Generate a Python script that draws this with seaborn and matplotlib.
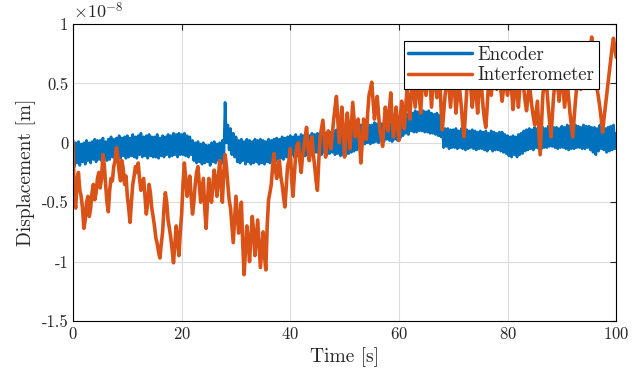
import numpy as np
import pandas as pd
import matplotlib
matplotlib.use("Agg")
import matplotlib.pyplot as plt
import seaborn as sns

# values in units of 1e-8 m, sampled every 0.25 s (one row = 5 s)
time_s = np.arange(0, 100.25, 0.25)

encoder = [
    0.02, -0.2, 0.0, -0.17, 0.01, -0.19, -0.01, -0.16, 0.0, -0.18, 0.02, -0.15, 0.0, -0.17, 0.01, -0.14, 0.03, -0.16, 0.02, -0.14,
    0.02, -0.15, 0.04, -0.13, 0.01, -0.15, 0.03, -0.14, 0.05, -0.12, 0.03, -0.14, 0.04, -0.12, 0.06, -0.13, 0.04, -0.11, 0.05, -0.13,
    0.06, -0.12, 0.04, -0.11, 0.07, -0.12, 0.05, -0.13, 0.06, -0.1, 0.08, -0.12, 0.05, -0.11, 0.06, -0.13, 0.07, -0.11, 0.05, -0.12,
    0.05, -0.12, 0.07, -0.13, 0.04, -0.11, 0.06, -0.12, 0.05, -0.1, 0.07, -0.12, 0.06, -0.11, 0.08, -0.1, 0.07, -0.12, 0.08, -0.1,
    0.07, -0.1, 0.08, -0.11, 0.06, -0.12, 0.05, -0.1, 0.02, -0.15, 0.0, -0.17, 0.01, -0.16, -0.01, -0.18, 0.0, -0.17, -0.02, -0.16,
    -0.02, -0.19, 0.0, -0.16, 0.01, -0.17, -0.01, -0.15, 0.0, -0.18, 0.02, -0.16, 0.34, 0.0, 0.15, -0.06, 0.12, -0.1, 0.08, -0.12,
    0.05, -0.16, 0.02, -0.17, 0.03, -0.15, 0.01, -0.18, 0.03, -0.16, 0.02, -0.18, 0.01, -0.17, 0.03, -0.16, 0.02, -0.18, 0.03, -0.17,
    0.02, -0.18, 0.01, -0.16, 0.03, -0.17, 0.02, -0.15, 0.03, -0.16, 0.04, -0.14, 0.03, -0.13, 0.05, -0.14, 0.04, -0.12, 0.05, -0.13,
    0.06, -0.1, 0.05, -0.12, 0.07, -0.11, 0.05, -0.1, 0.07, -0.09, 0.06, -0.11, 0.07, -0.1, 0.06, -0.09, 0.08, -0.1, 0.07, -0.08,
    0.08, -0.09, 0.07, -0.1, 0.09, -0.08, 0.08, -0.1, 0.1, -0.09, 0.09, -0.08, 0.1, -0.1, 0.11, -0.09, 0.12, -0.11, 0.11, -0.1,
    0.13, -0.1, 0.12, -0.09, 0.14, -0.08, 0.13, -0.07, 0.12, -0.06, 0.14, -0.04, 0.15, -0.02, 0.14, -0.01, 0.16, 0.0, 0.15, -0.01,
    0.15, 0.0, 0.17, 0.01, 0.16, 0.0, 0.17, 0.02, 0.16, 0.01, 0.18, 0.03, 0.17, 0.02, 0.16, 0.01, 0.18, 0.03, 0.17, 0.02,
    0.2, 0.04, 0.21, 0.06, 0.22, 0.08, 0.24, 0.07, 0.26, 0.1, 0.25, 0.09, 0.27, 0.09, 0.26, 0.1, 0.28, 0.1, 0.27, 0.09,
    0.26, 0.09, 0.27, 0.08, 0.25, 0.08, 0.24, 0.07, 0.25, 0.06, 0.23, 0.05, 0.13, -0.04, 0.12, -0.03, 0.12, -0.05, 0.11, -0.04,
    0.11, -0.04, 0.12, -0.05, 0.1, -0.04, 0.12, -0.05, 0.1, -0.06, 0.11, -0.05, 0.1, -0.04, 0.11, -0.05, 0.1, -0.06, 0.09, -0.05,
    0.1, -0.05, 0.09, -0.06, 0.1, -0.07, 0.08, -0.05, 0.1, -0.07, 0.09, -0.06, 0.08, -0.06, 0.09, -0.07, 0.09, -0.08, 0.07, -0.09,
    0.06, -0.11, 0.05, -0.12, 0.06, -0.1, 0.05, -0.12, 0.07, -0.1, 0.08, -0.09, 0.1, -0.07, 0.11, -0.06, 0.12, -0.05, 0.11, -0.06,
    0.13, -0.04, 0.12, -0.05, 0.14, -0.05, 0.13, -0.04, 0.12, -0.04, 0.14, -0.03, 0.14, -0.03, 0.13, -0.04, 0.13, -0.05, 0.12, -0.04,
    0.14, -0.04, 0.13, -0.05, 0.15, -0.06, 0.14, -0.05, 0.13, -0.05, 0.15, -0.04, 0.14, -0.04, 0.13, -0.05, 0.15, -0.05, 0.14, -0.04,
    0.14, -0.06, 0.13, -0.08, 0.13, -0.1, 0.12, -0.07, 0.15, -0.05, 0.14, -0.06, 0.12, -0.08, 0.13, -0.07, 0.14, -0.06, 0.15, -0.05,
    0.08,
]

interferometer = [
    0.0, -0.5, -0.55, -0.3, -0.25, -0.4, -0.45, -0.55, -0.72, -0.65, -0.5, -0.45, -0.62, -0.55, -0.42, -0.35, -0.48, -0.42, -0.3, -0.25,
    -0.38, -0.3, -0.1, -0.18, -0.35, -0.5, -0.58, -0.4, -0.3, -0.32, -0.2, -0.15, -0.04, -0.12, -0.25, -0.32, -0.15, -0.22, -0.35, -0.28,
    -0.45, -0.55, -0.67, -0.5, -0.35, -0.28, -0.2, -0.25, -0.17, -0.3, -0.4, -0.35, -0.3, -0.45, -0.6, -0.5, -0.35, -0.42, -0.55, -0.62,
    -0.7, -0.8, -0.85, -0.92, -0.97, -0.85, -0.75, -0.55, -0.42, -0.5, -0.65, -0.72, -0.8, -0.9, -1.01, -0.85, -0.7, -0.82, -0.95, -0.75,
    -0.6, -0.35, -0.17, -0.3, -0.45, -0.38, -0.28, -0.45, -0.6, -0.5, -0.35, -0.25, -0.2, -0.35, -0.5, -0.4, -0.3, -0.55, -0.72, -0.5,
    -0.3, -0.42, -0.5, -0.35, -0.23, -0.32, -0.45, -0.3, -0.15, -0.35, -0.5, -0.25, -0.1, -0.2, -0.35, -0.48, -0.55, -0.7, -0.84, -0.65,
    -0.45, -0.6, -0.76, -0.62, -0.5, -0.85, -1.11, -0.9, -0.7, -0.82, -1.0, -0.8, -0.62, -0.75, -0.95, -0.8, -0.65, -0.85, -1.05, -0.9,
    -0.75, -0.95, -1.07, -0.7, -0.48, -0.42, -0.35, -0.2, -0.09, -0.22, -0.3, -0.2, -0.15, -0.28, -0.35, -0.45, -0.54, -0.38, -0.2, -0.15,
    -0.05, -0.3, -0.45, -0.28, -0.1, -0.02, 0.0, -0.15, -0.25, -0.12, -0.05, 0.05, 0.13, -0.02, -0.15, -0.05, 0.05, -0.1, -0.2, -0.32,
    -0.4, -0.15, 0.05, 0.12, 0.19, 0.05, -0.12, 0.0, 0.1, 0.02, -0.05, 0.08, 0.2, 0.3, 0.39, 0.2, 0.0, 0.15, 0.3, 0.1,
    -0.12, 0.1, 0.25, 0.12, -0.05, 0.15, 0.34, 0.2, 0.05, 0.15, 0.2, 0.02, -0.17, 0.0, 0.2, 0.12, 0.03, 0.25, 0.4, 0.45,
    0.51, 0.35, 0.2, 0.3, 0.39, 0.25, 0.1, 0.05, -0.03, 0.15, 0.3, 0.2, 0.1, 0.28, 0.42, 0.2, 0.05, 0.18, 0.3, 0.15,
    0.02, 0.2, 0.35, 0.25, 0.12, 0.3, 0.45, 0.35, 0.2, 0.4, 0.55, 0.42, 0.3, 0.45, 0.6, 0.4, 0.25, 0.45, 0.65, 0.5,
    0.4, 0.55, 0.7, 0.5, 0.3, 0.48, 0.65, 0.5, 0.38, 0.5, 0.6, 0.3, 0.11, 0.25, 0.4, 0.5, 0.6, 0.45, 0.3, 0.45,
    0.6, 0.45, 0.25, 0.38, 0.5, 0.42, 0.3, 0.15, 0.05, 0.25, 0.45, 0.55, 0.6, 0.45, 0.3, 0.42, 0.55, 0.4, 0.25, 0.45,
    0.6, 0.45, 0.3, 0.2, 0.13, 0.3, 0.5, 0.45, 0.4, 0.55, 0.65, 0.55, 0.45, 0.52, 0.6, 0.45, 0.35, 0.45, 0.55, 0.48,
    0.4, 0.5, 0.6, 0.45, 0.28, 0.4, 0.55, 0.45, 0.3, 0.45, 0.6, 0.52, 0.45, 0.35, 0.27, 0.38, 0.5, 0.4, 0.3, 0.22,
    0.15, 0.25, 0.35, 0.12, -0.1, 0.15, 0.4, 0.5, 0.6, 0.45, 0.3, 0.18, 0.05, 0.22, 0.4, 0.5, 0.6, 0.48, 0.35, 0.5,
    0.6, 0.45, 0.3, 0.4, 0.5, 0.38, 0.25, 0.15, 0.05, 0.2, 0.35, 0.48, 0.6, 0.52, 0.45, 0.55, 0.65, 0.58, 0.5, 0.6,
    0.7, 0.8, 0.89, 0.75, 0.6, 0.52, 0.45, 0.38, 0.3, 0.2, 0.09, 0.2, 0.3, 0.4, 0.5, 0.6, 0.7, 0.8, 0.88, 0.8,
    0.72,
]

df = pd.DataFrame({
    "Time": np.concatenate([time_s, time_s]),
    "Displacement": encoder + interferometer,
    "Signal": ["Encoder"] * len(encoder) + ["Interferometer"] * len(interferometer),
})

sns.set_style("white")
plt.rcParams["font.family"] = "serif"
plt.rcParams["font.serif"] = ["cmr10", "DejaVu Serif"]
plt.rcParams["mathtext.fontset"] = "cm"
plt.rcParams["axes.unicode_minus"] = False
plt.rcParams["axes.formatter.use_mathtext"] = True

fig = plt.figure(figsize=(6.36, 3.86), dpi=100)
ax = fig.add_axes([0.1148, 0.1684, 0.854, 0.7694])

sns.lineplot(data=df, x="Time", y="Displacement", hue="Signal",
             palette={"Encoder": "#0072BD", "Interferometer": "#D95319"},
             linewidth=2.0, estimator=None, sort=False, ax=ax)
# interferometer trace looks a bit heavier in the original
ax.lines[1].set_linewidth(2.6)

ax.set_xlim(0, 100)
ax.set_ylim(-1.5, 1)
ax.set_xticks([0, 20, 40, 60, 80, 100])
ax.set_yticks([-1.5, -1, -0.5, 0, 0.5, 1])
ax.set_yticklabels(["-1.5", "-1", "-0.5", "0", "0.5", "1"])
ax.grid(True, color="#dcdcdc", linewidth=0.8)
ax.tick_params(direction="in", top=True, right=True, labelsize=12, length=4, width=0.8)
for s in ax.spines.values():
    s.set_color("black")
    s.set_linewidth(0.8)

ax.set_xlabel("Time [s]", fontsize=14)
ax.set_ylabel("Displacement [m]", fontsize=14)
ax.text(0.0, 1.01, r"$\times10^{-8}$", transform=ax.transAxes, fontsize=13,
        ha="left", va="bottom")

handles, labels = ax.get_legend_handles_labels()
for h in handles:
    h.set_linewidth(2.5)
leg = ax.legend(handles, labels, loc="upper right", bbox_to_anchor=(0.969, 0.943),
                borderaxespad=0, fancybox=False, framealpha=1, edgecolor="black",
                fontsize=13.5, handlelength=3.4, borderpad=0.25, labelspacing=0.15,
                handletextpad=0.3)
leg.get_frame().set_linewidth(0.8)

fig.savefig("out.png", dpi=100)
